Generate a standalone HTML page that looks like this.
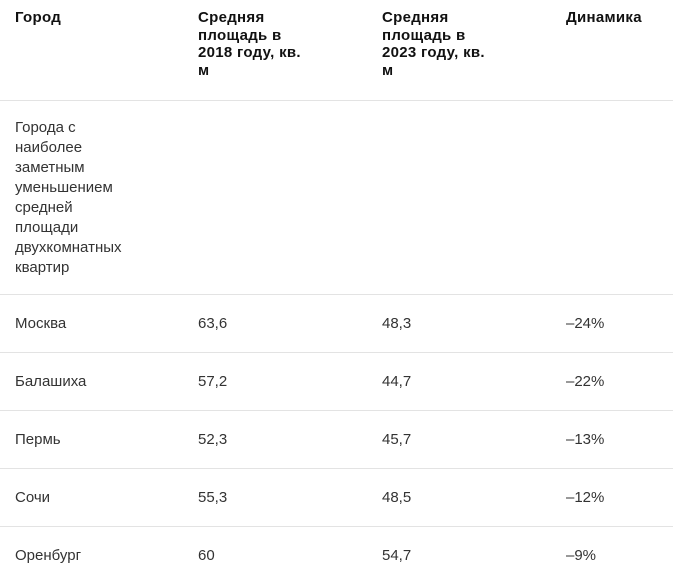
<!DOCTYPE html>
<html><head><meta charset="utf-8"><style>
body{margin:0;width:673px;height:583px;background:#fff;overflow:hidden;font-family:"Liberation Sans","DejaVu Sans",sans-serif;color:#222;position:relative}
.h{position:absolute;top:9px;font-weight:bold;font-size:15px;line-height:17.5px;color:#111;letter-spacing:0.3px}
.line{position:absolute;left:0;width:673px;height:1px;background:#e3e3e3}
.c{position:absolute;font-size:15px;line-height:20px;color:#333}
</style></head><body>
<div class="h" style="left:15px">Город</div>
<div class="h" style="left:198px;width:112px">Средняя площадь в 2018 году, кв. м</div>
<div class="h" style="left:382px;width:112px">Средняя площадь в 2023 году, кв. м</div>
<div class="h" style="left:566px">Динамика</div>
<div class="line" style="top:100px"></div>
<div class="c" style="left:15px;top:118px;width:122px">Города с наиболее заметным уменьшением средней площади двухкомнатных квартир</div>
<div id="rows"></div>
<script>
const cities=["Москва","Балашиха","Пермь","Сочи","Оренбург"];
const v2018=["63,6","57,2","52,3","55,3","60"];
const v2023=["48,3","44,7","45,7","48,5","54,7"];
const dyn=["–24%","–22%","–13%","–12%","–9%"];
const cols=[15,198,382,566];
cities.forEach((c,i)=>{
  const top=294+i*58;
  const ln=document.createElement('div');ln.className='line';ln.style.top=top+'px';
  
  
  document.body.appendChild(ln);
  [c,v2018[i],v2023[i],dyn[i]].forEach((t,j)=>{
    const d=document.createElement('div');d.className='c';d.textContent=t;
    d.style.left=cols[j]+'px';d.style.top=(top+20)+'px';
    
    
    document.body.appendChild(d);
  });
});
</script>
</body></html>
